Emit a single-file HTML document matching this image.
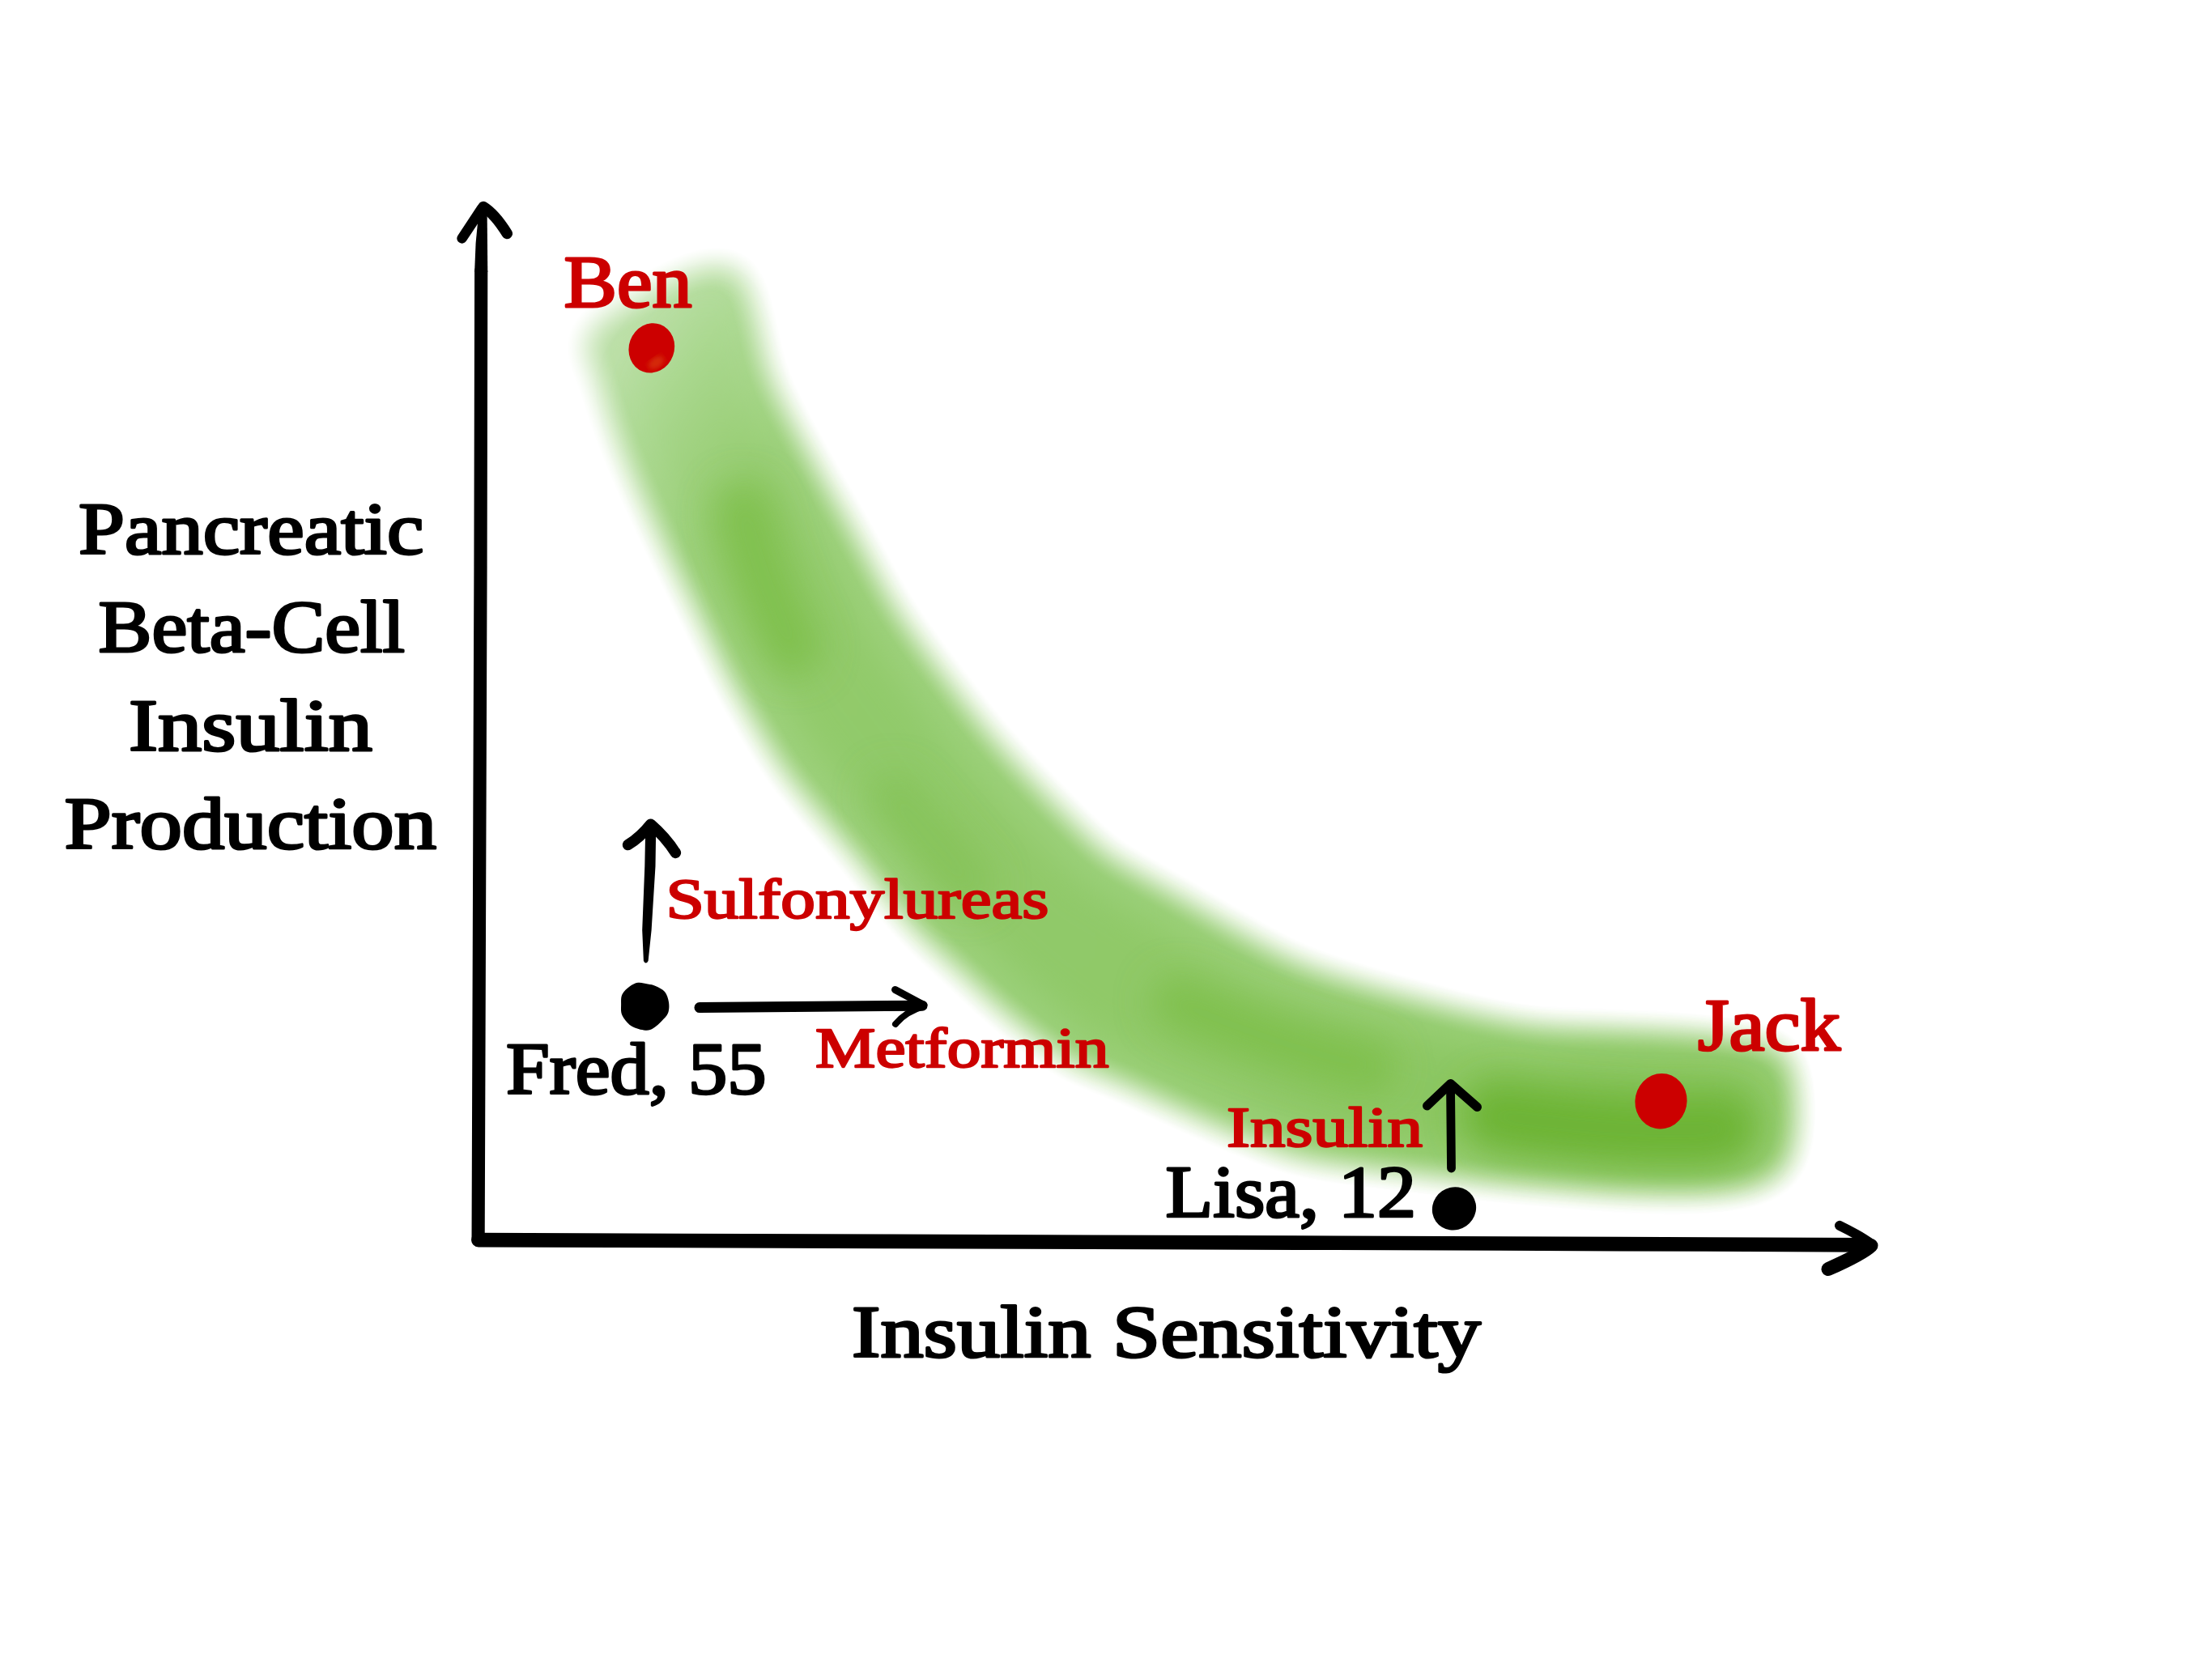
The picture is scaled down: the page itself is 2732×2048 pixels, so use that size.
<!DOCTYPE html>
<html>
<head>
<meta charset="utf-8">
<title>Insulin Sensitivity vs Beta-Cell Insulin Production</title>
<style>
  html, body { margin: 0; padding: 0; background: #ffffff; }
  body { width: 2732px; height: 2048px; overflow: hidden; position: relative; }
  svg { position: absolute; left: 0; top: 0; display: block; }
  text { font-family: "Liberation Serif", serif; font-weight: normal; stroke-linejoin: round; }
  .tL { font-size: 90px; stroke-width: 3.0px; }
  .tS { font-size: 70.5px; stroke-width: 2.4px; }
  .k { fill: #000000; stroke: #000000; }
  .r { fill: #cc0000; stroke: #cc0000; }
</style>
</head>
<body>
<svg width="2732" height="2048" viewBox="0 0 2732 2048">
  <defs>
    <filter id="soft" filterUnits="userSpaceOnUse" x="500" y="150" width="2000" height="1500"><feGaussianBlur stdDeviation="20"/><feComponentTransfer><feFuncA type="linear" slope="1.24" intercept="-0.12"/></feComponentTransfer></filter>
    <filter id="core" filterUnits="userSpaceOnUse" x="500" y="150" width="2000" height="1500">
      <feMorphology operator="erode" radius="30"/><feGaussianBlur stdDeviation="24"/>
    </filter>
    <filter id="b3"><feGaussianBlur stdDeviation="3"/></filter>
    <filter id="blob" filterUnits="userSpaceOnUse" x="500" y="150" width="2000" height="1500"><feGaussianBlur stdDeviation="22"/></filter>
    <linearGradient id="gband" gradientUnits="userSpaceOnUse" x1="800" y1="350" x2="2200" y2="1400">
      <stop offset="0" stop-color="#bfe1ac"/>
      <stop offset="0.06" stop-color="#aeda95"/>
      <stop offset="0.14" stop-color="#9fd27f"/>
      <stop offset="0.7" stop-color="#9bd079"/>
      <stop offset="1" stop-color="#98ce74"/>
    </linearGradient>
    <linearGradient id="gcore" gradientUnits="userSpaceOnUse" x1="800" y1="350" x2="2200" y2="1400">
      <stop offset="0" stop-color="#a2d384" stop-opacity="0"/>
      <stop offset="0.06" stop-color="#9dd07b" stop-opacity="0.5"/>
      <stop offset="0.13" stop-color="#93cb6c"/>
      <stop offset="0.7" stop-color="#90c968"/>
      <stop offset="1" stop-color="#86c45a"/>
    </linearGradient>
  </defs>

  <!-- green band -->
  <path d="M 848.0 338.0 C 863.0 332.0, 875.2 328.5, 886.0 328.0 C 896.8 327.5, 906.2 328.3, 913.0 335.0 C 919.8 341.7, 923.2 356.3, 927.0 368.0 C 930.8 379.7, 932.7 390.5, 936.0 405.0 C 939.3 419.5, 941.7 438.7, 947.0 455.0 C 952.3 471.3, 960.3 487.2, 968.0 503.0 C 975.7 518.8, 984.2 533.8, 993.0 550.0 C 1001.8 566.2, 1011.5 583.3, 1021.0 600.0 C 1030.5 616.7, 1040.7 633.3, 1050.0 650.0 C 1059.3 666.7, 1067.8 683.3, 1077.0 700.0 C 1086.2 716.7, 1094.8 733.7, 1105.0 750.0 C 1115.2 766.3, 1126.3 781.8, 1138.0 798.0 C 1149.7 814.2, 1162.5 830.7, 1175.0 847.0 C 1187.5 863.3, 1199.5 879.7, 1213.0 896.0 C 1226.5 912.3, 1240.8 928.5, 1256.0 945.0 C 1271.2 961.5, 1287.2 978.0, 1304.0 995.0 C 1320.8 1012.0, 1344.3 1035.5, 1357.0 1047.0 C 1369.7 1058.5, 1364.5 1054.5, 1380.0 1064.0 C 1395.5 1073.5, 1426.7 1090.5, 1450.0 1104.0 C 1473.3 1117.5, 1495.0 1131.0, 1520.0 1145.0 C 1545.0 1159.0, 1574.2 1176.5, 1600.0 1188.0 C 1625.8 1199.5, 1650.0 1206.2, 1675.0 1214.0 C 1700.0 1221.8, 1725.0 1228.3, 1750.0 1235.0 C 1775.0 1241.7, 1800.0 1248.5, 1825.0 1254.0 C 1850.0 1259.5, 1872.5 1265.0, 1900.0 1268.0 C 1927.5 1271.0, 1960.0 1270.7, 1990.0 1272.0 C 2020.0 1273.3, 2055.0 1274.3, 2080.0 1276.0 C 2105.0 1277.7, 2122.0 1279.5, 2140.0 1282.0 C 2158.0 1284.5, 2176.2 1286.2, 2188.0 1291.0 C 2199.8 1295.8, 2206.0 1298.7, 2211.0 1311.0 C 2216.0 1323.3, 2217.5 1346.8, 2218.0 1365.0 C 2218.5 1383.2, 2217.5 1405.5, 2214.0 1420.0 C 2210.5 1434.5, 2206.8 1443.8, 2197.0 1452.0 C 2187.2 1460.2, 2171.2 1465.3, 2155.0 1469.0 C 2138.8 1472.7, 2124.5 1473.3, 2100.0 1474.0 C 2075.5 1474.7, 2041.3 1474.5, 2008.0 1473.0 C 1974.7 1471.5, 1930.5 1467.5, 1900.0 1465.0 C 1869.5 1462.5, 1850.0 1460.7, 1825.0 1458.0 C 1800.0 1455.3, 1775.0 1452.0, 1750.0 1449.0 C 1725.0 1446.0, 1700.0 1443.5, 1675.0 1440.0 C 1650.0 1436.5, 1625.8 1435.0, 1600.0 1428.0 C 1574.2 1421.0, 1545.0 1408.2, 1520.0 1398.0 C 1495.0 1387.8, 1473.3 1377.5, 1450.0 1367.0 C 1426.7 1356.5, 1402.3 1344.8, 1380.0 1335.0 C 1357.7 1325.2, 1339.3 1322.2, 1316.0 1308.0 C 1292.7 1293.8, 1261.7 1268.0, 1240.0 1250.0 C 1218.3 1232.0, 1204.0 1216.7, 1186.0 1200.0 C 1168.0 1183.3, 1148.0 1166.7, 1132.0 1150.0 C 1116.0 1133.3, 1103.7 1116.7, 1090.0 1100.0 C 1076.3 1083.3, 1063.8 1066.7, 1050.0 1050.0 C 1036.2 1033.3, 1020.8 1016.7, 1007.0 1000.0 C 993.2 983.3, 978.8 966.7, 967.0 950.0 C 955.2 933.3, 946.0 916.7, 936.0 900.0 C 926.0 883.3, 916.0 866.7, 907.0 850.0 C 898.0 833.3, 890.2 816.7, 882.0 800.0 C 873.8 783.3, 866.2 766.7, 858.0 750.0 C 849.8 733.3, 841.2 716.7, 833.0 700.0 C 824.8 683.3, 816.8 666.7, 809.0 650.0 C 801.2 633.3, 793.3 616.7, 786.0 600.0 C 778.7 583.3, 771.5 566.7, 765.0 550.0 C 758.5 533.3, 752.3 515.8, 747.0 500.0 C 741.7 484.2, 737.5 467.2, 733.0 455.0 C 728.5 442.8, 718.7 436.7, 720.0 427.0 C 721.3 417.3, 728.3 407.5, 741.0 397.0 C 753.7 386.5, 778.2 373.8, 796.0 364.0 C 813.8 354.2, 833.0 344.0, 848.0 338.0 Z" fill="url(#gband)" filter="url(#soft)"/>
  <path d="M 848.0 338.0 C 863.0 332.0, 875.2 328.5, 886.0 328.0 C 896.8 327.5, 906.2 328.3, 913.0 335.0 C 919.8 341.7, 923.2 356.3, 927.0 368.0 C 930.8 379.7, 932.7 390.5, 936.0 405.0 C 939.3 419.5, 941.7 438.7, 947.0 455.0 C 952.3 471.3, 960.3 487.2, 968.0 503.0 C 975.7 518.8, 984.2 533.8, 993.0 550.0 C 1001.8 566.2, 1011.5 583.3, 1021.0 600.0 C 1030.5 616.7, 1040.7 633.3, 1050.0 650.0 C 1059.3 666.7, 1067.8 683.3, 1077.0 700.0 C 1086.2 716.7, 1094.8 733.7, 1105.0 750.0 C 1115.2 766.3, 1126.3 781.8, 1138.0 798.0 C 1149.7 814.2, 1162.5 830.7, 1175.0 847.0 C 1187.5 863.3, 1199.5 879.7, 1213.0 896.0 C 1226.5 912.3, 1240.8 928.5, 1256.0 945.0 C 1271.2 961.5, 1287.2 978.0, 1304.0 995.0 C 1320.8 1012.0, 1344.3 1035.5, 1357.0 1047.0 C 1369.7 1058.5, 1364.5 1054.5, 1380.0 1064.0 C 1395.5 1073.5, 1426.7 1090.5, 1450.0 1104.0 C 1473.3 1117.5, 1495.0 1131.0, 1520.0 1145.0 C 1545.0 1159.0, 1574.2 1176.5, 1600.0 1188.0 C 1625.8 1199.5, 1650.0 1206.2, 1675.0 1214.0 C 1700.0 1221.8, 1725.0 1228.3, 1750.0 1235.0 C 1775.0 1241.7, 1800.0 1248.5, 1825.0 1254.0 C 1850.0 1259.5, 1872.5 1265.0, 1900.0 1268.0 C 1927.5 1271.0, 1960.0 1270.7, 1990.0 1272.0 C 2020.0 1273.3, 2055.0 1274.3, 2080.0 1276.0 C 2105.0 1277.7, 2122.0 1279.5, 2140.0 1282.0 C 2158.0 1284.5, 2176.2 1286.2, 2188.0 1291.0 C 2199.8 1295.8, 2206.0 1298.7, 2211.0 1311.0 C 2216.0 1323.3, 2217.5 1346.8, 2218.0 1365.0 C 2218.5 1383.2, 2217.5 1405.5, 2214.0 1420.0 C 2210.5 1434.5, 2206.8 1443.8, 2197.0 1452.0 C 2187.2 1460.2, 2171.2 1465.3, 2155.0 1469.0 C 2138.8 1472.7, 2124.5 1473.3, 2100.0 1474.0 C 2075.5 1474.7, 2041.3 1474.5, 2008.0 1473.0 C 1974.7 1471.5, 1930.5 1467.5, 1900.0 1465.0 C 1869.5 1462.5, 1850.0 1460.7, 1825.0 1458.0 C 1800.0 1455.3, 1775.0 1452.0, 1750.0 1449.0 C 1725.0 1446.0, 1700.0 1443.5, 1675.0 1440.0 C 1650.0 1436.5, 1625.8 1435.0, 1600.0 1428.0 C 1574.2 1421.0, 1545.0 1408.2, 1520.0 1398.0 C 1495.0 1387.8, 1473.3 1377.5, 1450.0 1367.0 C 1426.7 1356.5, 1402.3 1344.8, 1380.0 1335.0 C 1357.7 1325.2, 1339.3 1322.2, 1316.0 1308.0 C 1292.7 1293.8, 1261.7 1268.0, 1240.0 1250.0 C 1218.3 1232.0, 1204.0 1216.7, 1186.0 1200.0 C 1168.0 1183.3, 1148.0 1166.7, 1132.0 1150.0 C 1116.0 1133.3, 1103.7 1116.7, 1090.0 1100.0 C 1076.3 1083.3, 1063.8 1066.7, 1050.0 1050.0 C 1036.2 1033.3, 1020.8 1016.7, 1007.0 1000.0 C 993.2 983.3, 978.8 966.7, 967.0 950.0 C 955.2 933.3, 946.0 916.7, 936.0 900.0 C 926.0 883.3, 916.0 866.7, 907.0 850.0 C 898.0 833.3, 890.2 816.7, 882.0 800.0 C 873.8 783.3, 866.2 766.7, 858.0 750.0 C 849.8 733.3, 841.2 716.7, 833.0 700.0 C 824.8 683.3, 816.8 666.7, 809.0 650.0 C 801.2 633.3, 793.3 616.7, 786.0 600.0 C 778.7 583.3, 771.5 566.7, 765.0 550.0 C 758.5 533.3, 752.3 515.8, 747.0 500.0 C 741.7 484.2, 737.5 467.2, 733.0 455.0 C 728.5 442.8, 718.7 436.7, 720.0 427.0 C 721.3 417.3, 728.3 407.5, 741.0 397.0 C 753.7 386.5, 778.2 373.8, 796.0 364.0 C 813.8 354.2, 833.0 344.0, 848.0 338.0 Z" fill="url(#gcore)" filter="url(#core)"/>
  <g fill="none" stroke-linecap="round" stroke-linejoin="round" filter="url(#blob)">
    <path d="M 918 630 Q 940 720 980 800" stroke="#7cbe48" stroke-width="70" opacity="0.8"/>
    <path d="M 1105 985 L 1195 1090" stroke="#80c04e" stroke-width="66" opacity="0.55"/>
    <path d="M 1455 1238 Q 1570 1290 1690 1318" stroke="#7cbe48" stroke-width="66" opacity="0.8"/>
    <path d="M 1850 1378 Q 2010 1402 2125 1394" stroke="#6db434" stroke-width="86" opacity="1"/>
  </g>

  <!-- axes -->
  <g fill="none" stroke="#000000" stroke-linecap="round" stroke-linejoin="round">
    <path d="M 594.2 335 L 593.5 700 L 590.6 1531.8" stroke-width="16.2"/>
    <path d="M 590.9 1531.6 L 1100 1533.4 L 1650 1535.3 L 2000 1536.6 L 2308 1537.9" stroke-width="17.6"/>
    <path d="M 591.3 262 L 601.6 262 L 602.3 336 L 586.1 336 L 587.6 300 Z" fill="#000000" stroke="none"/>
    <path d="M 595 257.5 L 570.6 294.4" stroke-width="12.5"/>
    <path d="M 597 255.5 Q 611 264 626.3 288.5" stroke-width="13.5"/>
    <path d="M 2272 1513.8 Q 2297 1526 2312 1537" stroke-width="12"/>
    <path d="M 2258 1567.5 Q 2300 1549 2311 1538.5" stroke-width="17"/>
    <!-- Sulfonylureas arrow -->
    <path d="M 797.3 1018 L 810.3 1018 L 809.5 1070 L 804.6 1149 L 800.6 1187 Q 797.7 1192 794.9 1187 L 793.2 1149 L 796.3 1070 Z" fill="#000000" stroke="none"/>
    <path d="M 775.6 1043.6 Q 791 1034 803.6 1018.2 Q 822 1034 834.4 1053.4" stroke-width="13.5"/>
    <!-- Metformin arrow -->
    <path d="M 864 1244.6 L 1139 1242.2" stroke-width="13"/>
    <path d="M 1105.5 1222.5 L 1141 1241.5" stroke-width="9"/>
    <path d="M 1141 1243 Q 1118 1250 1106 1265" stroke-width="8"/>
    <!-- Insulin arrow -->
    <path d="M 1792.5 1443 L 1791.5 1340" stroke-width="10.8"/>
    <path d="M 1762.5 1366 L 1791.5 1338.5 L 1824.5 1367.5" stroke-width="11"/>
  </g>

  <!-- dots -->
  <ellipse cx="804.8" cy="429.9" rx="28" ry="31" fill="#cc0000" transform="rotate(20 804.8 429.9)"/>
  <ellipse cx="810.5" cy="448" rx="11" ry="6.5" fill="#d83a08" opacity="0.75" transform="rotate(-35 810.5 448)" filter="url(#b3)"/>
  <ellipse cx="2051.5" cy="1360.2" rx="32" ry="34.4" fill="#cc0000" transform="rotate(12 2051.5 1360.2)"/>
  <path d="M 788.0 1213.8 C 791.7 1213.3, 796.4 1214.8, 800.0 1215.5 C 803.6 1216.2, 806.2 1216.3, 809.7 1217.9 C 813.2 1219.5, 818.3 1221.7, 821.0 1225.0 C 823.7 1228.3, 825.3 1233.6, 826.0 1238.0 C 826.7 1242.4, 826.5 1247.7, 825.0 1251.6 C 823.5 1255.5, 820.0 1258.4, 817.0 1261.5 C 814.0 1264.6, 810.3 1268.1, 807.0 1270.0 C 803.7 1271.9, 801.5 1273.1, 797.0 1272.7 C 792.5 1272.3, 784.8 1270.7, 780.0 1267.6 C 775.2 1264.5, 770.6 1258.8, 768.5 1254.3 C 766.4 1249.8, 767.1 1245.0, 767.1 1240.7 C 767.1 1236.4, 766.7 1231.9, 768.5 1228.2 C 770.3 1224.5, 774.5 1220.9, 777.7 1218.5 C 781.0 1216.1, 784.3 1214.3, 788.0 1213.8 Z" fill="#000000"/>
  <ellipse cx="1796" cy="1492.8" rx="27.6" ry="26.2" fill="#000000" transform="rotate(-35 1796 1492.8)"/>

  <!-- text -->
  <text class="k tL" x="97.0" y="684.0" textLength="426.5" lengthAdjust="spacingAndGlyphs">Pancreatic</text>
  <text class="k tL" x="121.5" y="804.5" textLength="378.5" lengthAdjust="spacingAndGlyphs">Beta-Cell</text>
  <text class="k tL" x="159.0" y="926.8" textLength="301.0" lengthAdjust="spacingAndGlyphs">Insulin</text>
  <text class="k tL" x="79.5" y="1047.8" textLength="459.5" lengthAdjust="spacingAndGlyphs">Production</text>
  <text class="k tL" x="625.0" y="1351.3" textLength="321.5" lengthAdjust="spacingAndGlyphs">Fred, 55</text>
  <text class="k tL" x="1439.5" y="1503.4" textLength="309.6" lengthAdjust="spacingAndGlyphs">Lisa, 12</text>
  <text class="k tL" x="1052.0" y="1676.2" textLength="777.0" lengthAdjust="spacingAndGlyphs">Insulin Sensitivity</text>
  <text class="r tL" x="696.5" y="378.7" textLength="158.0" lengthAdjust="spacingAndGlyphs">Ben</text>
  <text class="r tL" x="2097.0" y="1296.5" textLength="176.0" lengthAdjust="spacingAndGlyphs">Jack</text>
  <text class="r tS" x="822.4" y="1134.3" textLength="473.1" lengthAdjust="spacingAndGlyphs">Sulfonylureas</text>
  <text class="r tS" x="1007.0" y="1318.4" textLength="362.5" lengthAdjust="spacingAndGlyphs">Metformin</text>
  <text class="r tS" x="1515.0" y="1416.4" textLength="242.0" lengthAdjust="spacingAndGlyphs">Insulin</text>
</svg>
</body>
</html>
